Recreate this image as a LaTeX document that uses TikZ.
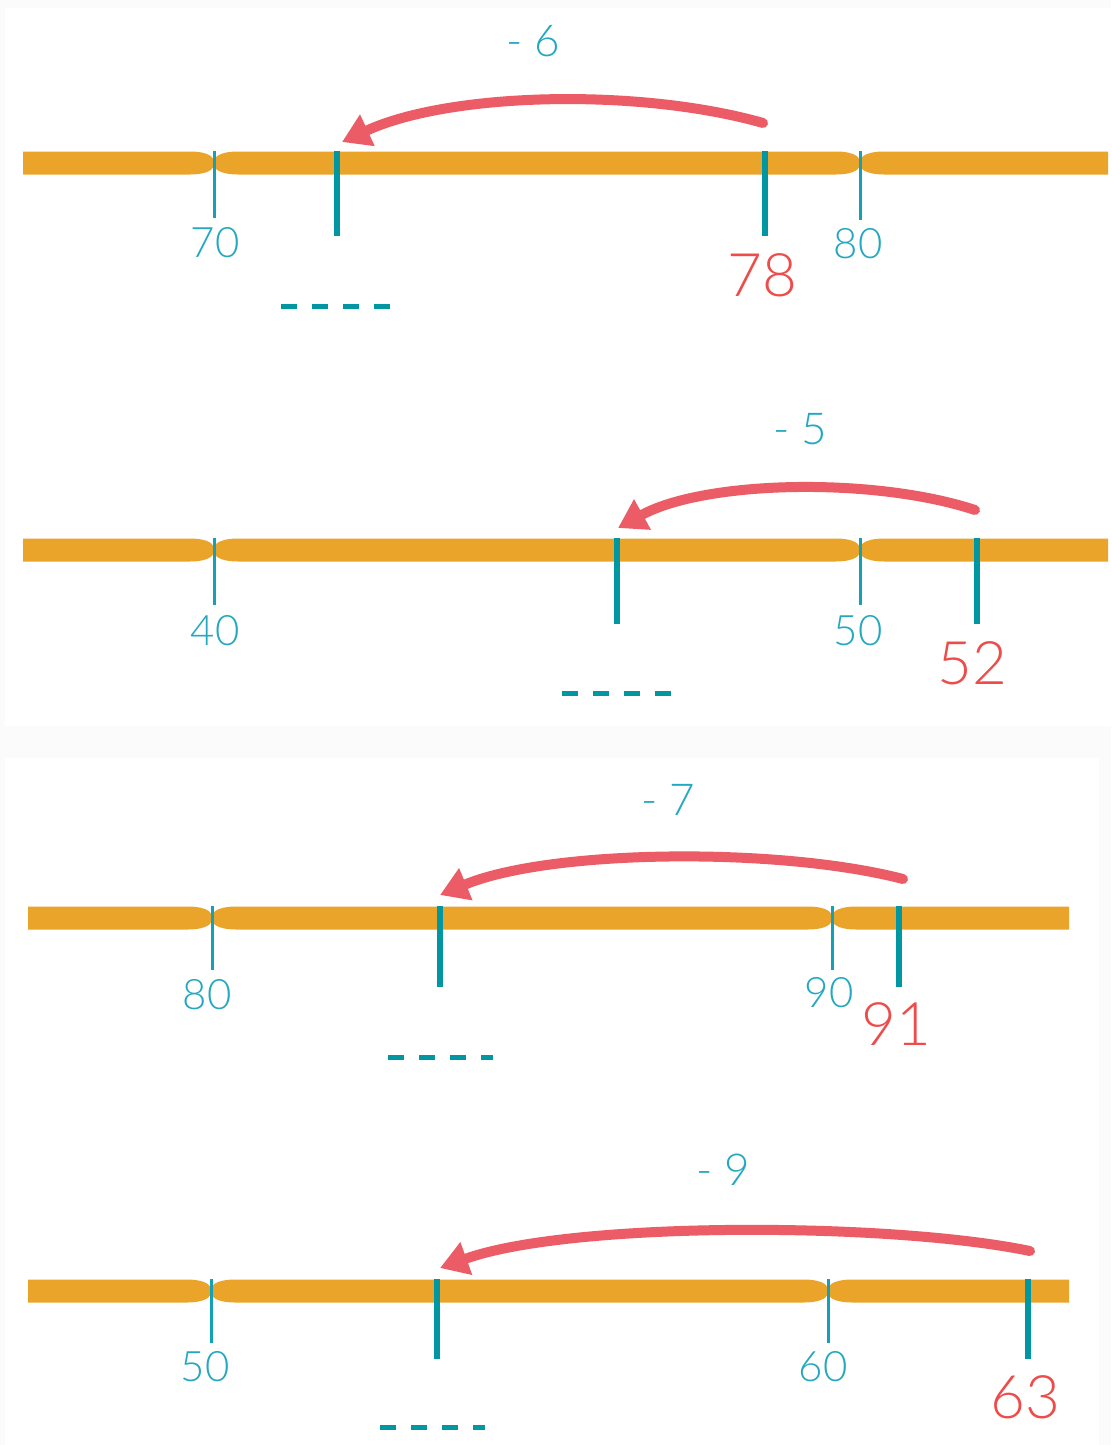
\documentclass[tikz,border=0pt]{standalone}
\usepackage{fontspec}
\setmainfont{Lato}[UprightFont=* Light]
\usetikzlibrary{arrows.meta}
\definecolor{barcol}{RGB}{234,164,42}
\definecolor{tickcol}{RGB}{0,150,162}
\definecolor{thincol}{RGB}{20,160,182}
\definecolor{labcol}{RGB}{35,168,192}
\definecolor{redtxt}{RGB}{238,76,74}
\definecolor{arrcol}{RGB}{236,92,102}
\definecolor{bgcol}{RGB}{251,251,251}
\tikzset{
  thintick/.style={draw=thincol,line width=3pt},
  thicktick/.style={draw=tickcol,line width=6.5pt},
  ticklab/.style={text=labcol,inner sep=0pt,font=\fontsize{42}{42}\selectfont},
  startlab/.style={text=redtxt,inner sep=0pt,font=\fontsize{60}{60}\selectfont},
  steplab/.style={text=labcol,inner sep=0pt,font=\fontsize{44}{44}\selectfont},
  blank/.style={draw=tickcol,line width=5pt,dash pattern=on 16pt off 15pt},
  jump/.style={draw=arrcol,line width=10pt,line cap=round,-{Triangle[length=28pt,width=33pt]}},
}
\newcommand\pinchbar[5]{%
  \fill[barcol] (#2,#1-11.5) -- (#4-24,#1-11.5)
   .. controls (#4-10,#1-11.5) and (#4-2,#1-8) .. (#4,#1-3)
   .. controls (#4+2,#1-8) and (#4+10,#1-11.5) .. (#4+24,#1-11.5)
   -- (#5-24,#1-11.5)
   .. controls (#5-10,#1-11.5) and (#5-2,#1-8) .. (#5,#1-3)
   .. controls (#5+2,#1-8) and (#5+10,#1-11.5) .. (#5+24,#1-11.5)
   -- (#3,#1-11.5) -- (#3,#1+11.5) -- (#5+24,#1+11.5)
   .. controls (#5+10,#1+11.5) and (#5+2,#1+8) .. (#5,#1+3)
   .. controls (#5-2,#1+8) and (#5-10,#1+11.5) .. (#5-24,#1+11.5)
   -- (#4+24,#1+11.5)
   .. controls (#4+10,#1+11.5) and (#4+2,#1+8) .. (#4,#1+3)
   .. controls (#4-2,#1+8) and (#4-10,#1+11.5) .. (#4-24,#1+11.5)
   -- (#2,#1+11.5) -- cycle;}
\begin{document}
\begin{tikzpicture}[x=1pt,y=-1pt]
\useasboundingbox (0,0) rectangle (1111,1445);
\fill[bgcol] (0,0) rectangle (1111,1445);
\fill[white] (5,8) rectangle (1111,726);
\fill[white] (5,758) rectangle (1099,1445);

% ---------- row 1 : 78 - 6
\pinchbar{163}{23}{1108}{214}{860}
\draw[thintick] (214,151) -- (214,218);
\draw[thintick] (860,151) -- (860,220);
\draw[thicktick] (337,151) -- (337,236);
\draw[thicktick] (765,151) -- (765,236);
\node[ticklab] (a70) at (215,243) {70};
\node[ticklab] (a80) at (858,244) {80};
\node[startlab] (a78) at (762,275) {78};
\coordinate (d1a) at (281,306);
\coordinate (d1b) at (390,306);
\draw[blank] (d1a) -- (d1b);
\coordinate (s1) at (763,123);
\coordinate (t1) at (342,142);
\draw[jump] (s1) .. controls (640,88) and (450,92) .. (t1);
\node[steplab] (m6) at (533,41) {- 6};

% ---------- row 2 : 52 - 5
\pinchbar{550}{23}{1108}{214}{860}
\draw[thintick] (214,538) -- (214,605);
\draw[thintick] (860,538) -- (860,605);
\draw[thicktick] (617,538) -- (617,624);
\draw[thicktick] (977,538) -- (977,624);
\node[ticklab] (b40) at (215,631) {40};
\node[ticklab] (b50) at (858,631) {50};
\node[startlab] (b52) at (972,663) {52};
\coordinate (d2a) at (562,693);
\coordinate (d2b) at (672,693);
\draw[blank] (d2a) -- (d2b);
\coordinate (s2) at (975,510);
\coordinate (t2) at (618,528);
\draw[jump] (s2) .. controls (875,477) and (705,480) .. (t2);
\node[steplab] (m5) at (800,429) {- 5};

% ---------- row 3 : 91 - 7
\pinchbar{918}{28}{1069}{212}{832}
\draw[thintick] (212,906) -- (212,970);
\draw[thintick] (832,906) -- (832,970);
\draw[thicktick] (440,906) -- (440,987);
\draw[thicktick] (899,906) -- (899,987);
\node[ticklab] (c80) at (207,995) {80};
\node[ticklab] (c90) at (829,993) {90};
\node[startlab] (c91) at (896,1024) {91};
\coordinate (d3a) at (388,1057);
\coordinate (d3b) at (493,1057);
\draw[blank] (d3a) -- (d3b);
\coordinate (s3) at (903,879);
\coordinate (t3) at (440,895);
\draw[jump] (s3) .. controls (780,847) and (550,849) .. (t3);
\node[steplab] (m7) at (668,800) {- 7};

% ---------- row 4 : 63 - 9
\pinchbar{1291}{28}{1069}{211}{828}
\draw[thintick] (211,1279) -- (211,1343);
\draw[thintick] (828,1279) -- (828,1343);
\draw[thicktick] (437,1279) -- (437,1359);
\draw[thicktick] (1028,1279) -- (1028,1359);
\node[ticklab] (e50) at (205,1367) {50};
\node[ticklab] (e60) at (823,1367) {60};
\node[startlab] (e63) at (1025,1397) {63};
\coordinate (d4a) at (380,1427);
\coordinate (d4b) at (485,1427);
\draw[blank] (d4a) -- (d4b);
\coordinate (s4) at (1030,1251);
\coordinate (t4) at (440,1268);
\draw[jump] (s4) .. controls (890,1222) and (570,1221) .. (t4);
\node[steplab] (m9) at (723,1170) {- 9};
\end{tikzpicture}
\end{document}
